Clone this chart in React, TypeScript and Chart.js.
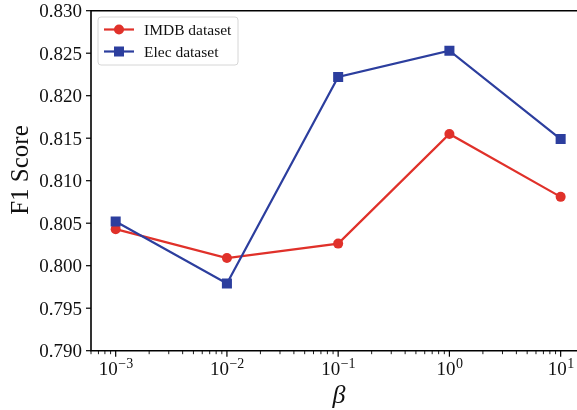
import React, { useEffect, useRef } from "react";
import { Chart, registerables } from "chart.js";

Chart.register(...registerables);

const betaValues = [1e-3, 1e-2, 1e-1, 1e0, 1e1];
const imdbF1 = [0.8043, 0.8009, 0.8026, 0.8155, 0.8081];
const elecF1 = [0.8052, 0.7979, 0.8222, 0.8253, 0.8149];
const seriesNames = ["IMDB dataset", "Elec dataset"];
const yTickValues = [0.79, 0.795, 0.8, 0.805, 0.81, 0.815, 0.82, 0.825, 0.83];
const xTickExponents = [-3, -2, -1, 0, 1];
const yAxisTitle = "F1 Score";
const xAxisTitle = "β";

const RED = "#e0312a";
const BLUE = "#2c3e9e";
const SERIF = '"Liberation Serif", "Times New Roman", serif';

const axesPlugin = {
  id: "mplAxes",
  afterDraw(chart: any) {
    const ctx = chart.ctx as CanvasRenderingContext2D;
    const area = chart.chartArea;
    const xs = chart.scales.x;
    const ys = chart.scales.y;
    ctx.save();
    // spines
    ctx.strokeStyle = "#000";
    ctx.lineWidth = 1.6;
    ctx.beginPath();
    ctx.moveTo(area.left, area.top);
    ctx.lineTo(area.right, area.top);
    ctx.lineTo(area.right, area.bottom);
    ctx.lineTo(area.left, area.bottom);
    ctx.closePath();
    ctx.stroke();

    // y ticks + labels
    ctx.fillStyle = "#111";
    ctx.font = `19px ${SERIF}`;
    ctx.textAlign = "right";
    ctx.textBaseline = "alphabetic";
    ctx.lineWidth = 1.2;
    for (const v of yTickValues) {
      const py = ys.getPixelForValue(v);
      ctx.beginPath();
      ctx.moveTo(area.left - 5, py);
      ctx.lineTo(area.left, py);
      ctx.stroke();
      ctx.fillText(v.toFixed(3), area.left - 9, py + 6.5);
    }

    // x minor ticks
    ctx.lineWidth = 0.9;
    for (let e = -4; e <= 1; e++) {
      for (let m = 2; m <= 9; m++) {
        const v = m * Math.pow(10, e);
        const px = xs.getPixelForValue(v);
        if (px < area.left || px > area.right) continue;
        ctx.beginPath();
        ctx.moveTo(px, area.bottom);
        ctx.lineTo(px, area.bottom + 3.5);
        ctx.stroke();
      }
    }
    // x major ticks + labels
    ctx.lineWidth = 1.2;
    for (const e of xTickExponents) {
      const px = xs.getPixelForValue(Math.pow(10, e));
      ctx.beginPath();
      ctx.moveTo(px, area.bottom);
      ctx.lineTo(px, area.bottom + 6);
      ctx.stroke();
      const base = "10";
      const exp = e < 0 ? "\u2212" + Math.abs(e) : String(e);
      ctx.font = `19px ${SERIF}`;
      const bw = ctx.measureText(base).width;
      ctx.font = `14px ${SERIF}`;
      const ew = ctx.measureText(exp).width;
      const start = px - (bw + ew) / 2;
      ctx.textAlign = "left";
      ctx.font = `19px ${SERIF}`;
      ctx.fillText(base, start, area.bottom + 24.5);
      ctx.font = `14px ${SERIF}`;
      ctx.fillText(exp, start + bw + 0.5, area.bottom + 17.5);
    }

    // axis titles
    ctx.textAlign = "center";
    ctx.font = `italic 26px ${SERIF}`;
    ctx.fillText(xAxisTitle, 339, 403);
    ctx.save();
    ctx.translate(28, 170);
    ctx.rotate(-Math.PI / 2);
    ctx.font = `25px ${SERIF}`;
    ctx.textBaseline = "alphabetic";
    ctx.fillText(yAxisTitle, 0, 0);
    ctx.restore();

    // legend
    const lx = 98, ly = 17, lw = 140, lh = 48, r = 3;
    ctx.beginPath();
    ctx.moveTo(lx + r, ly);
    ctx.lineTo(lx + lw - r, ly);
    ctx.arcTo(lx + lw, ly, lx + lw, ly + r, r);
    ctx.lineTo(lx + lw, ly + lh - r);
    ctx.arcTo(lx + lw, ly + lh, lx + lw - r, ly + lh, r);
    ctx.lineTo(lx + r, ly + lh);
    ctx.arcTo(lx, ly + lh, lx, ly + lh - r, r);
    ctx.lineTo(lx, ly + r);
    ctx.arcTo(lx, ly, lx + r, ly, r);
    ctx.closePath();
    ctx.fillStyle = "rgba(255,255,255,0.8)";
    ctx.fill();
    ctx.strokeStyle = "#d6d6d6";
    ctx.lineWidth = 1;
    ctx.stroke();

    const entries = [
      { name: seriesNames[0], color: RED, shape: "circle", y: 29.5 },
      { name: seriesNames[1], color: BLUE, shape: "rect", y: 51.5 },
    ];
    for (const en of entries) {
      ctx.strokeStyle = en.color;
      ctx.fillStyle = en.color;
      ctx.lineWidth = 2.2;
      ctx.beginPath();
      ctx.moveTo(104, en.y);
      ctx.lineTo(134, en.y);
      ctx.stroke();
      if (en.shape === "circle") {
        ctx.beginPath();
        ctx.arc(119, en.y, 5, 0, Math.PI * 2);
        ctx.fill();
      } else {
        ctx.fillRect(119 - 5, en.y - 5, 10, 10);
      }
      ctx.fillStyle = "#111";
      ctx.textAlign = "left";
      ctx.font = `15.5px ${SERIF}`;
      ctx.fillText(en.name, 144, en.y + 5);
    }
    ctx.restore();
  },
};

export default function App() {
  const ref = useRef<HTMLCanvasElement | null>(null);
  useEffect(() => {
    if (!ref.current) return;
    const chart = new Chart(ref.current, {
      type: "line",
      data: {
        datasets: [
          {
            label: seriesNames[0],
            data: betaValues.map((x, i) => ({ x, y: imdbF1[i] })),
            borderColor: RED,
            backgroundColor: RED,
            borderWidth: 2.2,
            pointStyle: "circle",
            pointRadius: 5,
            pointBorderWidth: 0,
            tension: 0,
            order: 1,
          },
          {
            label: seriesNames[1],
            data: betaValues.map((x, i) => ({ x, y: elecF1[i] })),
            borderColor: BLUE,
            backgroundColor: BLUE,
            borderWidth: 2.2,
            pointStyle: "rect",
            pointRadius: 7.1,
            pointBorderWidth: 0,
            tension: 0,
            order: 0,
          },
        ],
      },
      options: {
        animation: false,
        responsive: false,
        maintainAspectRatio: false,
        layout: { padding: { top: 10.7, right: 5, left: 0, bottom: 0 } },
        plugins: { legend: { display: false }, tooltip: { enabled: false } },
        scales: {
          x: {
            type: "logarithmic",
            min: Math.pow(10, -3.2),
            max: Math.pow(10, 1.2),
            ticks: { display: false },
            grid: { display: false },
            border: { display: false },
            afterFit: (s: any) => {
              s.height = 410 - 350.7;
            },
          },
          y: {
            type: "linear",
            min: 0.79,
            max: 0.83,
            ticks: { display: false },
            grid: { display: false },
            border: { display: false },
            afterFit: (s: any) => {
              s.width = 91;
            },
          },
        },
      },
      plugins: [axesPlugin],
    } as any);
    return () => chart.destroy();
  }, []);
  return (
    <div
      style={{
        position: "absolute",
        left: 0,
        top: 0,
        width: 577,
        height: 410,
        overflow: "hidden",
        background: "#fff",
      }}
    >
      <canvas ref={ref} width={590} height={410} style={{ width: 590, height: 410, display: "block" }} />
    </div>
  );
}
